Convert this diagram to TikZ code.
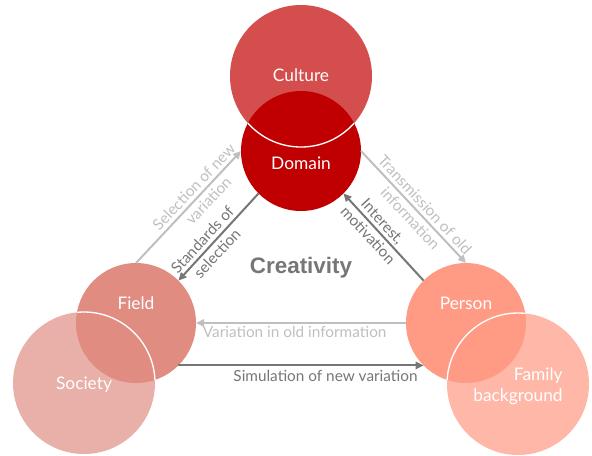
\documentclass[tikz,border=0pt]{standalone}
\usepackage{fontspec}
\setmainfont{Lato}
\newfontfamily\headfont{Liberation Sans}
\usetikzlibrary{arrows.meta, positioning, calc}

\definecolor{culturered}{HTML}{D44E4E}
\definecolor{domainred}{HTML}{C00000}
\definecolor{fieldpink}{HTML}{E08C80}
\definecolor{societypink}{HTML}{E8B0A8}
\definecolor{personsalmon}{HTML}{FF9B85}
\definecolor{familysalmon}{HTML}{FFB8A8}
\definecolor{lightgray}{HTML}{BFBFBF}
\definecolor{darkgray}{HTML}{767676}

\begin{document}
\begin{tikzpicture}[
  x=0.75pt, y=-0.75pt,
  bigcirc/.style = {circle, minimum size=106.5pt, inner sep=0pt, outer sep=0pt},
  smallcirc/.style = {circle, minimum size=90pt, inner sep=0pt, outer sep=0pt},
  circtext/.style = {text=white, font=\fontsize{13}{16}\selectfont, align=center, inner sep=0pt},
  lightarr/.style = {line width=1.5pt, lightgray, -{Triangle[length=6pt, width=5.5pt]}},
  darkarr/.style = {line width=1.5pt, darkgray, -{Triangle[length=6pt, width=5.5pt]}},
  arrlabel/.style = {font=\fontsize{11.5}{15}\selectfont, align=center, inner sep=1pt}
]
  \useasboundingbox (0,0) rectangle (592,455);

  % Culture and Domain
  \node[bigcirc, fill=culturered] (culture) at (301,76) {};
  \node[smallcirc, fill=domainred] (domain) at (301,151) {};
  \begin{scope}
    \clip (domain.center) circle[radius=45pt];
    \draw[white, line width=1pt] (culture.center) circle[radius=53.25pt];
  \end{scope}

  % Society and Field
  \node[bigcirc, fill=societypink] (society) at (84,383) {};
  \node[smallcirc, fill=fieldpink] (field) at (136,323) {};
  \begin{scope}
    \clip (field.center) circle[radius=45pt];
    \draw[white, line width=1pt] (society.center) circle[radius=53.25pt];
  \end{scope}

  % Family background and Person
  \node[bigcirc, fill=familysalmon] (family) at (518,384) {};
  \node[smallcirc, fill=personsalmon] (person) at (466,323) {};
  \begin{scope}
    \clip (person.center) circle[radius=45pt];
    \draw[white, line width=1pt] (family.center) circle[radius=53.25pt];
  \end{scope}

  % circle texts
  \node[circtext] (culturetext) at ($(culture.center)+(0,-1)$) {Culture};
  \node[circtext] (domaintext) at ($(domain.center)+(0,12)$) {Domain};
  \node[circtext] (societytext) at ($(society.center)+(0,2)$) {Society};
  \node[circtext] (fieldtext) at ($(field.center)+(0,-20)$) {Field};
  \node[circtext] (persontext) at ($(person.center)+(0,-20)$) {Person};
  \node[circtext, align=right] (familytext) at ($(family.center)+(0,2)$) {Family\\background};

  % centre title
  \node[font=\headfont\bfseries\fontsize{16.8}{20}\selectfont, text=darkgray] (creativity) at (301,268) {Creativity};

  % Field <-> Domain
  \draw[lightarr] (field.90) -- node[arrlabel, sloped, pos=0.62, text=lightgray] {Selection of new\\variation} (domain.180);
  \draw[darkarr] (domain.225) -- node[arrlabel, sloped, pos=0.61, text=darkgray] {Standards of\\selection} (field.45);

  % Domain <-> Person
  \draw[lightarr] (domain.0) -- node[arrlabel, sloped, pos=0.54, text=lightgray] {Transmission of old\\information} (person.90);
  \draw[darkarr] (person.135) -- node[arrlabel, sloped, pos=0.6, text=darkgray] {Interest,\\motivation} (domain.-45);

  % Person <-> Field
  \draw[lightarr] (person.180) -- node[arrlabel, below=1pt, pos=0.53, text=lightgray] {Variation in old information} (field.0);
  \draw[darkarr] (field.-45) -- node[arrlabel, below=2pt, pos=0.6, text=darkgray] {Simulation of new variation} (person.-135);

\end{tikzpicture}
\end{document}
